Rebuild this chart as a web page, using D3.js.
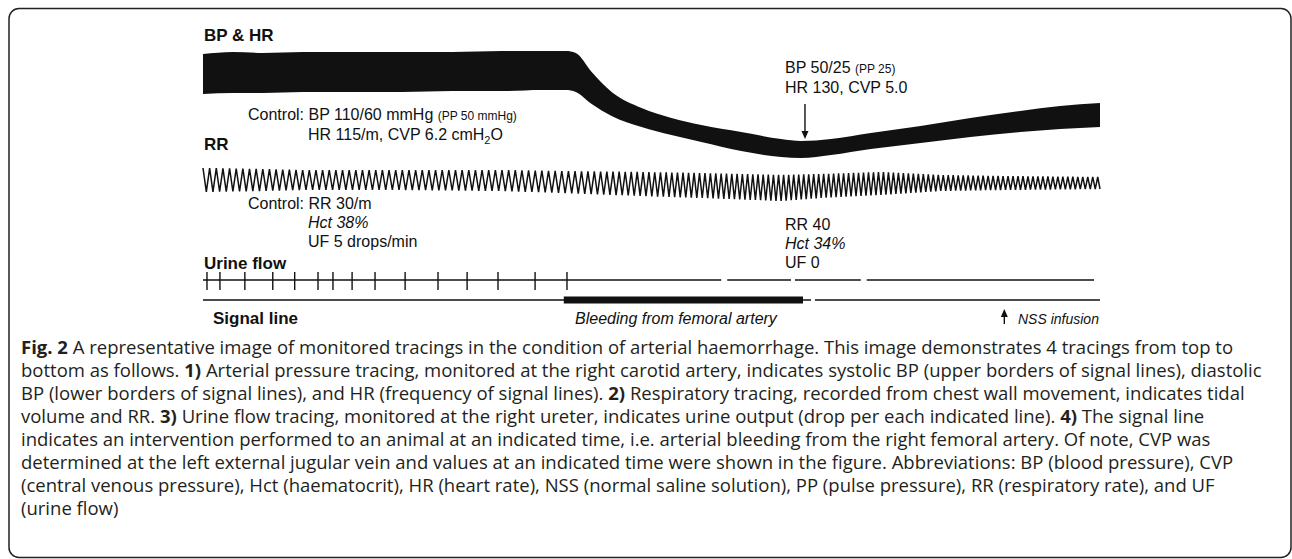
<!DOCTYPE html>
<html><head><meta charset="utf-8">
<script src="https://cdn.jsdelivr.net/npm/d3@7"></script>
<style>body{margin:0;background:#fff}svg{display:block}</style>
</head><body><svg id="c" width="1292" height="559"></svg>
<script>
// ---------------- data (read from the tracing) ----------------
// recording time in minutes
const bpTime  = [0,0.15,0.3,0.5,0.75,1.0,1.25,1.5,1.7,1.82,1.87,1.95,2.05,2.2,2.35,2.5,2.7,2.9,3.0,3.15,3.35,3.6,3.85,4.1,4.3,4.5];
// pen deflection (mm) of systolic (upper) and diastolic (lower) borders
const bpUpper = [42.4,43.2,42.8,43.2,43.2,43.2,43.2,43.6,43.6,43.6,42.8,35.2,27.2,20.8,16.8,14,11.2,8.4,7.6,8.4,10.8,13.6,16.8,19.6,21.6,22.8];
const bpLower = [26.4,26.8,26.8,27.2,27.2,27.2,27.6,27.6,28,28,27.2,22.4,17.6,13.2,10,7.2,3.6,1.2,0.8,2,4.4,6.8,9.2,11.2,12.4,13.2];
// respiratory tracing envelope (mm)
const rrTime  = [0,0.3,0.5,1.0,1.5,1.8,2.2,2.5,2.9,3.1,3.4,3.7,4.0,4.5];
const rrUpper = [14.8,14.4,14,14,14,13.6,13.2,12.8,12,12.4,13.2,12,11.6,11.2];
const rrLower = [5.2,5.6,6,6,5.6,4.8,3.6,2.8,1.6,2.8,4,5.6,6,6.4];
// respiratory rate (breaths/min)
const rrRateTime = [0,1.8,2.4,3.0,4.5];
const rrRate     = [30,30,36,40,40];
// urine drop marks (min)
const dropTimes = [0.02,0.085,0.21,0.35,0.46,0.577,0.652,0.748,0.863,1.014,1.179,1.325,1.48,1.666,1.826];
const urineSegments = [[0,2.6],[2.63,2.95],[2.97,3.3],[3.33,4.47]];
// signal line events (min)
const bleeding = [1.81,3.01];
const signalSegments = [[0,3.05],[3.07,4.5]];
const nssTime = 4.02;
const markerTime = 3.02;

const labelFont = "'Liberation Sans', Arial, Helvetica, sans-serif";
const captionFont = "'Open Sans', 'Noto Sans', sans-serif";

const captionLines = [
  [["Fig. 2",true],[" A representative image of monitored tracings in the condition of arterial haemorrhage. This image demonstrates 4 tracings from top to",false]],
  [["bottom as follows. ",false],["1)",true],[" Arterial pressure tracing, monitored at the right carotid artery, indicates systolic BP (upper borders of signal lines), diastolic",false]],
  [["BP (lower borders of signal lines), and HR (frequency of signal lines). ",false],["2)",true],[" Respiratory tracing, recorded from chest wall movement, indicates tidal",false]],
  [["volume and RR. ",false],["3)",true],[" Urine flow tracing, monitored at the right ureter, indicates urine output (drop per each indicated line). ",false],["4)",true],[" The signal line",false]],
  [["indicates an intervention performed to an animal at an indicated time, i.e. arterial bleeding from the right femoral artery. Of note, CVP was",false]],
  [["determined at the left external jugular vein and values at an indicated time were shown in the figure. Abbreviations: BP (blood pressure), CVP",false]],
  [["(central venous pressure), Hct (haematocrit), HR (heart rate), NSS (normal saline solution), PP (pulse pressure), RR (respiratory rate), and UF",false]],
  [["(urine flow)",false]]
];

// ---------------- drawing ----------------
const svg = d3.select("#c");
const x = d3.scaleLinear().domain([0,4.5]).range([203,1100]);
const yBP = d3.scaleLinear().domain([0,45]).range([160,47.5]);
const yRR = d3.scaleLinear().domain([0,14]).range([205,170]);
const yUrine = 280, ySignal = 300;

// frame
svg.append("rect").attr("x",9).attr("y",8.5).attr("width",1282).attr("height",549)
  .attr("rx",10).attr("fill","none").attr("stroke","#222").attr("stroke-width",1.5);

// BP band
const bpData = bpTime.map((t,i)=>({t,hi:bpUpper[i],lo:bpLower[i]}));
svg.append("path").datum(bpData)
  .attr("d", d3.area().x(d=>x(d.t)).y0(d=>yBP(d.lo)).y1(d=>yBP(d.hi)).curve(d3.curveMonotoneX))
  .attr("fill","#111");

// RR tracing
const upS = d3.scaleLinear().domain(rrTime).range(rrUpper);
const loS = d3.scaleLinear().domain(rrTime).range(rrLower);
const rateS = d3.scaleLinear().domain(rrRateTime).range(rrRate);
const rrPts = [];
let t = 0;
while (t < 4.5) {
  const p = 1/rateS(t);
  rrPts.push([x(t), yRR(upS(t))]);
  const tm = Math.min(t + p/2, 4.5);
  rrPts.push([x(tm), yRR(loS(tm))]);
  t += p;
}
svg.append("path").attr("d", d3.line()(rrPts)).attr("fill","none").attr("stroke","#111").attr("stroke-width",1.5);

// urine flow
urineSegments.forEach(s=>{
  svg.append("line").attr("x1",x(s[0])).attr("x2",x(s[1])).attr("y1",yUrine).attr("y2",yUrine)
    .attr("stroke","#111").attr("stroke-width",1.6);
});
svg.selectAll(".drop").data(dropTimes).enter().append("line")
  .attr("x1",d=>x(d)).attr("x2",d=>x(d)).attr("y1",yUrine-8).attr("y2",yUrine+10)
  .attr("stroke","#111").attr("stroke-width",1.4);

// signal line
signalSegments.forEach(s=>{
  svg.append("line").attr("x1",x(s[0])).attr("x2",x(s[1])).attr("y1",ySignal).attr("y2",ySignal)
    .attr("stroke","#111").attr("stroke-width",1.6);
});
svg.append("rect").attr("x",x(bleeding[0])).attr("y",ySignal-3.5).attr("width",x(bleeding[1])-x(bleeding[0])).attr("height",7).attr("fill","#111");

// arrows
function arrow(x0,y0,y1){
  const dir = y1>y0?1:-1;
  svg.append("line").attr("x1",x0).attr("x2",x0).attr("y1",y0).attr("y2",y1-dir*6).attr("stroke","#111").attr("stroke-width",1.4);
  svg.append("path").attr("d",`M${x0-3.5},${y1-dir*8}L${x0},${y1}L${x0+3.5},${y1-dir*8}Z`).attr("fill","#111");
}
arrow(x(markerTime),104,139);
arrow(x(nssTime),324,309);

// labels
function txt(xx,yy,s,opt={}){
  return svg.append("text").attr("x",xx).attr("y",yy).text(s)
    .attr("font-family",labelFont).attr("font-size",opt.size||16)
    .attr("font-weight",opt.bold?"bold":"normal").attr("font-style",opt.italic?"italic":"normal")
    .attr("fill","#111");
}
txt(204,41,"BP & HR",{bold:true,size:17});
const c1 = txt(248,120,"Control: BP 110/60 mmHg ");
c1.append("tspan").attr("font-size",12).text("(PP 50 mmHg)");
const c2 = txt(308,140,"HR 115/m, CVP 6.2 cmH");
c2.append("tspan").attr("font-size",11).attr("dy",4).text("2");
c2.append("tspan").attr("dy",-4).text("O");
txt(204,150,"RR",{bold:true,size:17});
txt(248,209,"Control: RR 30/m");
txt(308,228,"Hct 38%",{italic:true});
txt(308,247,"UF 5 drops/min");
txt(204,269,"Urine flow",{bold:true,size:17});
txt(213,324,"Signal line",{bold:true,size:17});
txt(575,324,"Bleeding from femoral artery",{italic:true,size:16});
txt(1018,324,"NSS infusion",{italic:true,size:14});
const r1 = txt(785,73,"BP 50/25 ");
r1.append("tspan").attr("font-size",12).text("(PP 25)");
txt(785,93,"HR 130, CVP 5.0");
txt(785,230,"RR 40");
txt(785,249,"Hct 34%",{italic:true});
txt(785,268,"UF 0");

// caption
captionLines.forEach((line,i)=>{
  const te = svg.append("text").attr("x",21).attr("y",354+i*23)
    .attr("font-family",captionFont).attr("font-size",18.5).attr("fill","#231f20");
  line.forEach(seg=>te.append("tspan").attr("font-weight",seg[1]?"bold":"normal").text(seg[0]));
});
</script></body></html>
